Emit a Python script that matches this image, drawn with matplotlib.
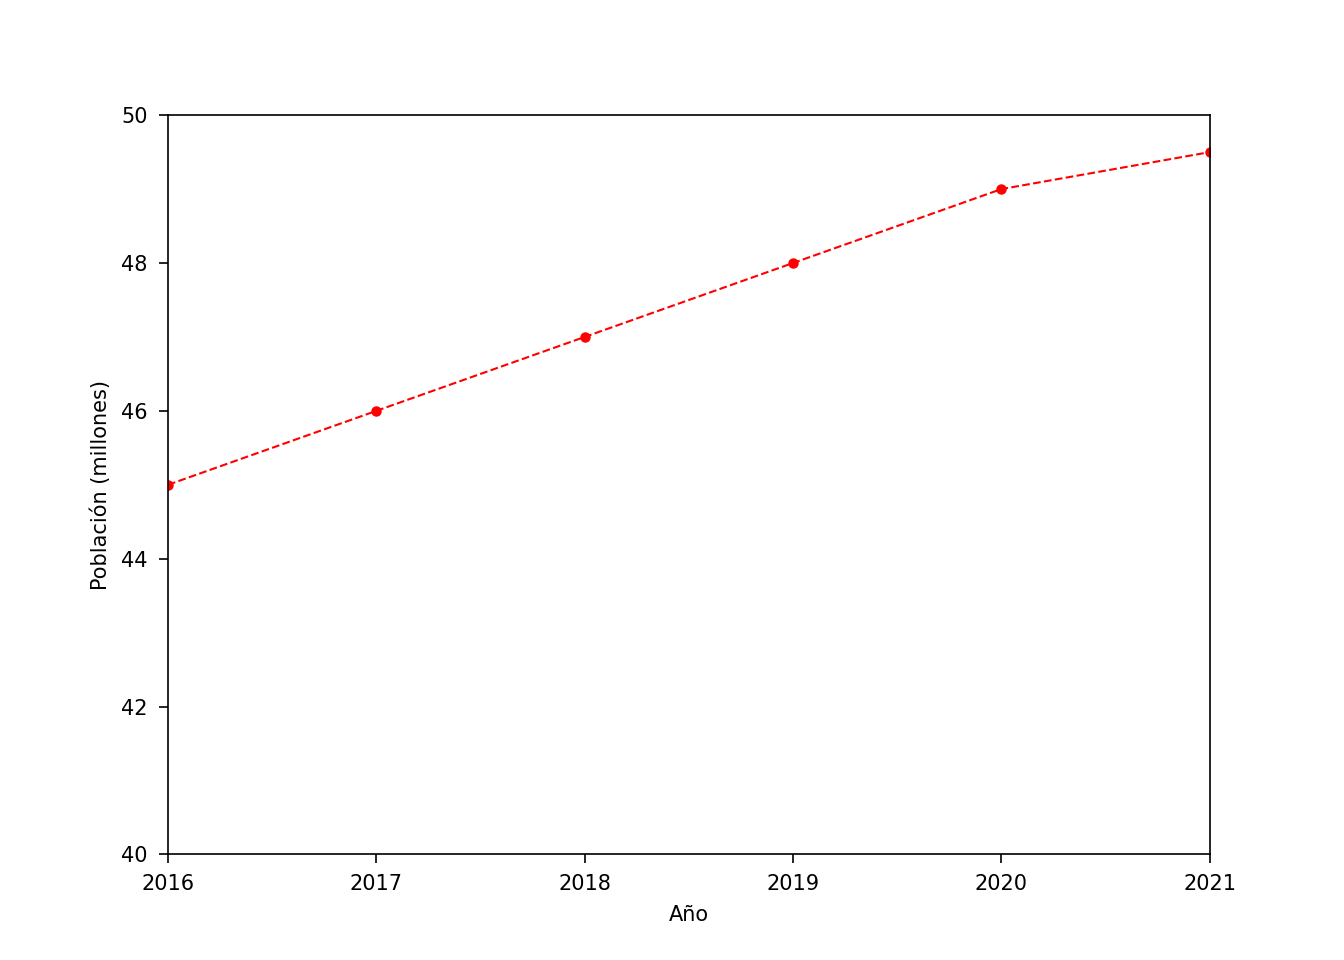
import matplotlib
matplotlib.use('Agg')
from matplotlib import pyplot as plt

anios = [2016, 2017, 2018, 2019, 2020, 2021]
poblacion = [45, 46, 47, 48, 49, 49.5]

plt.rcParams['xtick.major.size'] = 4.3
plt.rcParams['ytick.major.size'] = 4.3
plt.rcParams['xtick.major.pad'] = 5
plt.rcParams['ytick.major.pad'] = 5.5

fig = plt.figure(figsize=(8.96, 6.4), dpi=150)
ax = fig.add_subplot(111)
ax.plot(anios, poblacion, color='red', linestyle='--', linewidth=1, marker='o', markersize=4)
ax.set_xlim(2016, 2021)
ax.set_ylim(40, 50)
ax.set_xlabel('Año', labelpad=5.5)
ax.set_ylabel('Población (millones)', labelpad=5)

fig.savefig('out.png', dpi=150)
